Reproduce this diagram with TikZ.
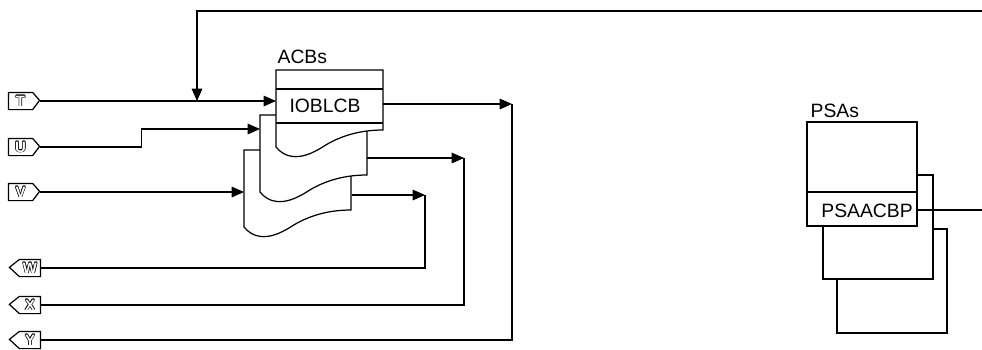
\documentclass[tikz,border=0pt]{standalone}
\usepackage{fontspec}
\setmainfont{Liberation Sans}
\usetikzlibrary{arrows.meta,calc}
\newcommand\hollowtxt[1]{\setbox0\hbox{#1}%
\rlap{\kern-.32pt\copy0}\rlap{\kern.32pt\copy0}\rlap{\raise.32pt\copy0}\rlap{\lower.32pt\copy0}%
\rlap{\kern.23pt\raise.23pt\copy0}\rlap{\kern-.23pt\raise.23pt\copy0}%
\rlap{\kern.23pt\lower.23pt\copy0}\rlap{\kern-.23pt\lower.23pt\copy0}%
{\color{white}#1}}
\begin{document}
\begin{tikzpicture}[x=0.02cm,y=-0.02cm,line width=0.7pt,
  >={Triangle[length=7pt,width=6pt]},
  lbl/.style={inner sep=0,font=\fontsize{11}{13}\selectfont},
  port/.style={inner sep=0,minimum height=0.32cm,font=\fontsize{8.5}{9}\selectfont\bfseries},
  sheet/.style={draw,fill=white},
  box/.style={draw,fill=white}]
\useasboundingbox (0,0) rectangle (982,349);

% ---------- ACB sheets ----------
\foreach \sx/\sy in {244/150,260/115,276/70}{
  \begin{scope}[shift={(\sx,\sy)}]
  \path[sheet] (0,0) -- (107,0) -- (107,60)
    .. controls (80,60) and (60,68) .. (45,78)
    .. controls (22,92) and (8,87) .. (0,77) -- cycle;
  \end{scope}}
\draw (276,89) -- (383,89);
\draw (276,123) -- (383,123);
\node[lbl,anchor=base west] (acbl) at (277,63) {ACBs};
\node[lbl,anchor=base] (iob) at (325,112) {IOBLCB};

\coordinate (acbTin) at (276,101);
\coordinate (acbUin) at (260,129);
\coordinate (acbVin) at (244,192);
\coordinate (out1) at (383,104);
\coordinate (out2) at (367,158);
\coordinate (out3) at (352,195);
\coordinate (j1) at (512,104);
\coordinate (j2) at (464,158);
\coordinate (j3) at (425,195);

% ---------- PSA boxes ----------
\draw[box] (837,229) rectangle (947,333);
\draw[box] (823,175) rectangle (933,279);
\draw[box] (807,122) rectangle (917,226);
\draw (807,192) -- (917,192);
\node[lbl,anchor=base west] (psal) at (810,117) {PSAs};
\node[lbl,anchor=base] (psap) at (867,217) {PSAACBP};
\coordinate (psaout) at (917,210);
\coordinate (psaedge) at (982,210);
\draw (psaout) -- (psaedge);

% ---------- ports ----------
\node[port,minimum width=0.46cm] (Tb) at (20.5,101) {\hollowtxt{T}};
\node[port,minimum width=0.46cm] (Ub) at (20.5,147) {\hollowtxt{U}};
\node[port,minimum width=0.46cm] (Vb) at (20.5,192) {\hollowtxt{V}};
\foreach \n in {Tb,Ub,Vb}{
  \draw (\n.north west) -- (\n.north east) -- ++(7,8) -- (\n.south east) -- (\n.south west) -- cycle;}
\coordinate (Tt) at ($(Tb.east)+(7,0)$);
\coordinate (Ut) at ($(Ub.east)+(7,0)$);
\coordinate (Vt) at ($(Vb.east)+(7,0)$);

\node[port,minimum width=0.4cm] (Wb) at (30,268) {\hollowtxt{W}};
\node[port,minimum width=0.4cm] (Xb) at (30,305) {\hollowtxt{X}};
\node[port,minimum width=0.4cm] (Yb) at (30,340) {\hollowtxt{Y}};
\foreach \n in {Wb,Xb,Yb}{
  \draw (\n.north east) -- (\n.north west) -- ++(-10,8) -- (\n.south west) -- (\n.south east) -- cycle;}

% ---------- connectors ----------
\coordinate (fbedge) at (982,11);
\coordinate (fbtop) at (197,11);
\coordinate (fbtip) at (197,101);
\draw[->] (fbedge) -- (fbtop) -- (fbtip);
\draw[->] (Tt) -- (acbTin);
\draw[->] (Ut) -- ++(102,0) |- (acbUin);
\draw[->] (Vt) -- (acbVin);
\draw[->] (out1) -- (j1);
\draw[->] (out2) -- (j2);
\draw[->] (out3) -- (j3);
\draw (j1) |- (Yb.east);
\draw (j2) |- (Xb.east);
\draw (j3) |- (Wb.east);
\end{tikzpicture}
\end{document}
